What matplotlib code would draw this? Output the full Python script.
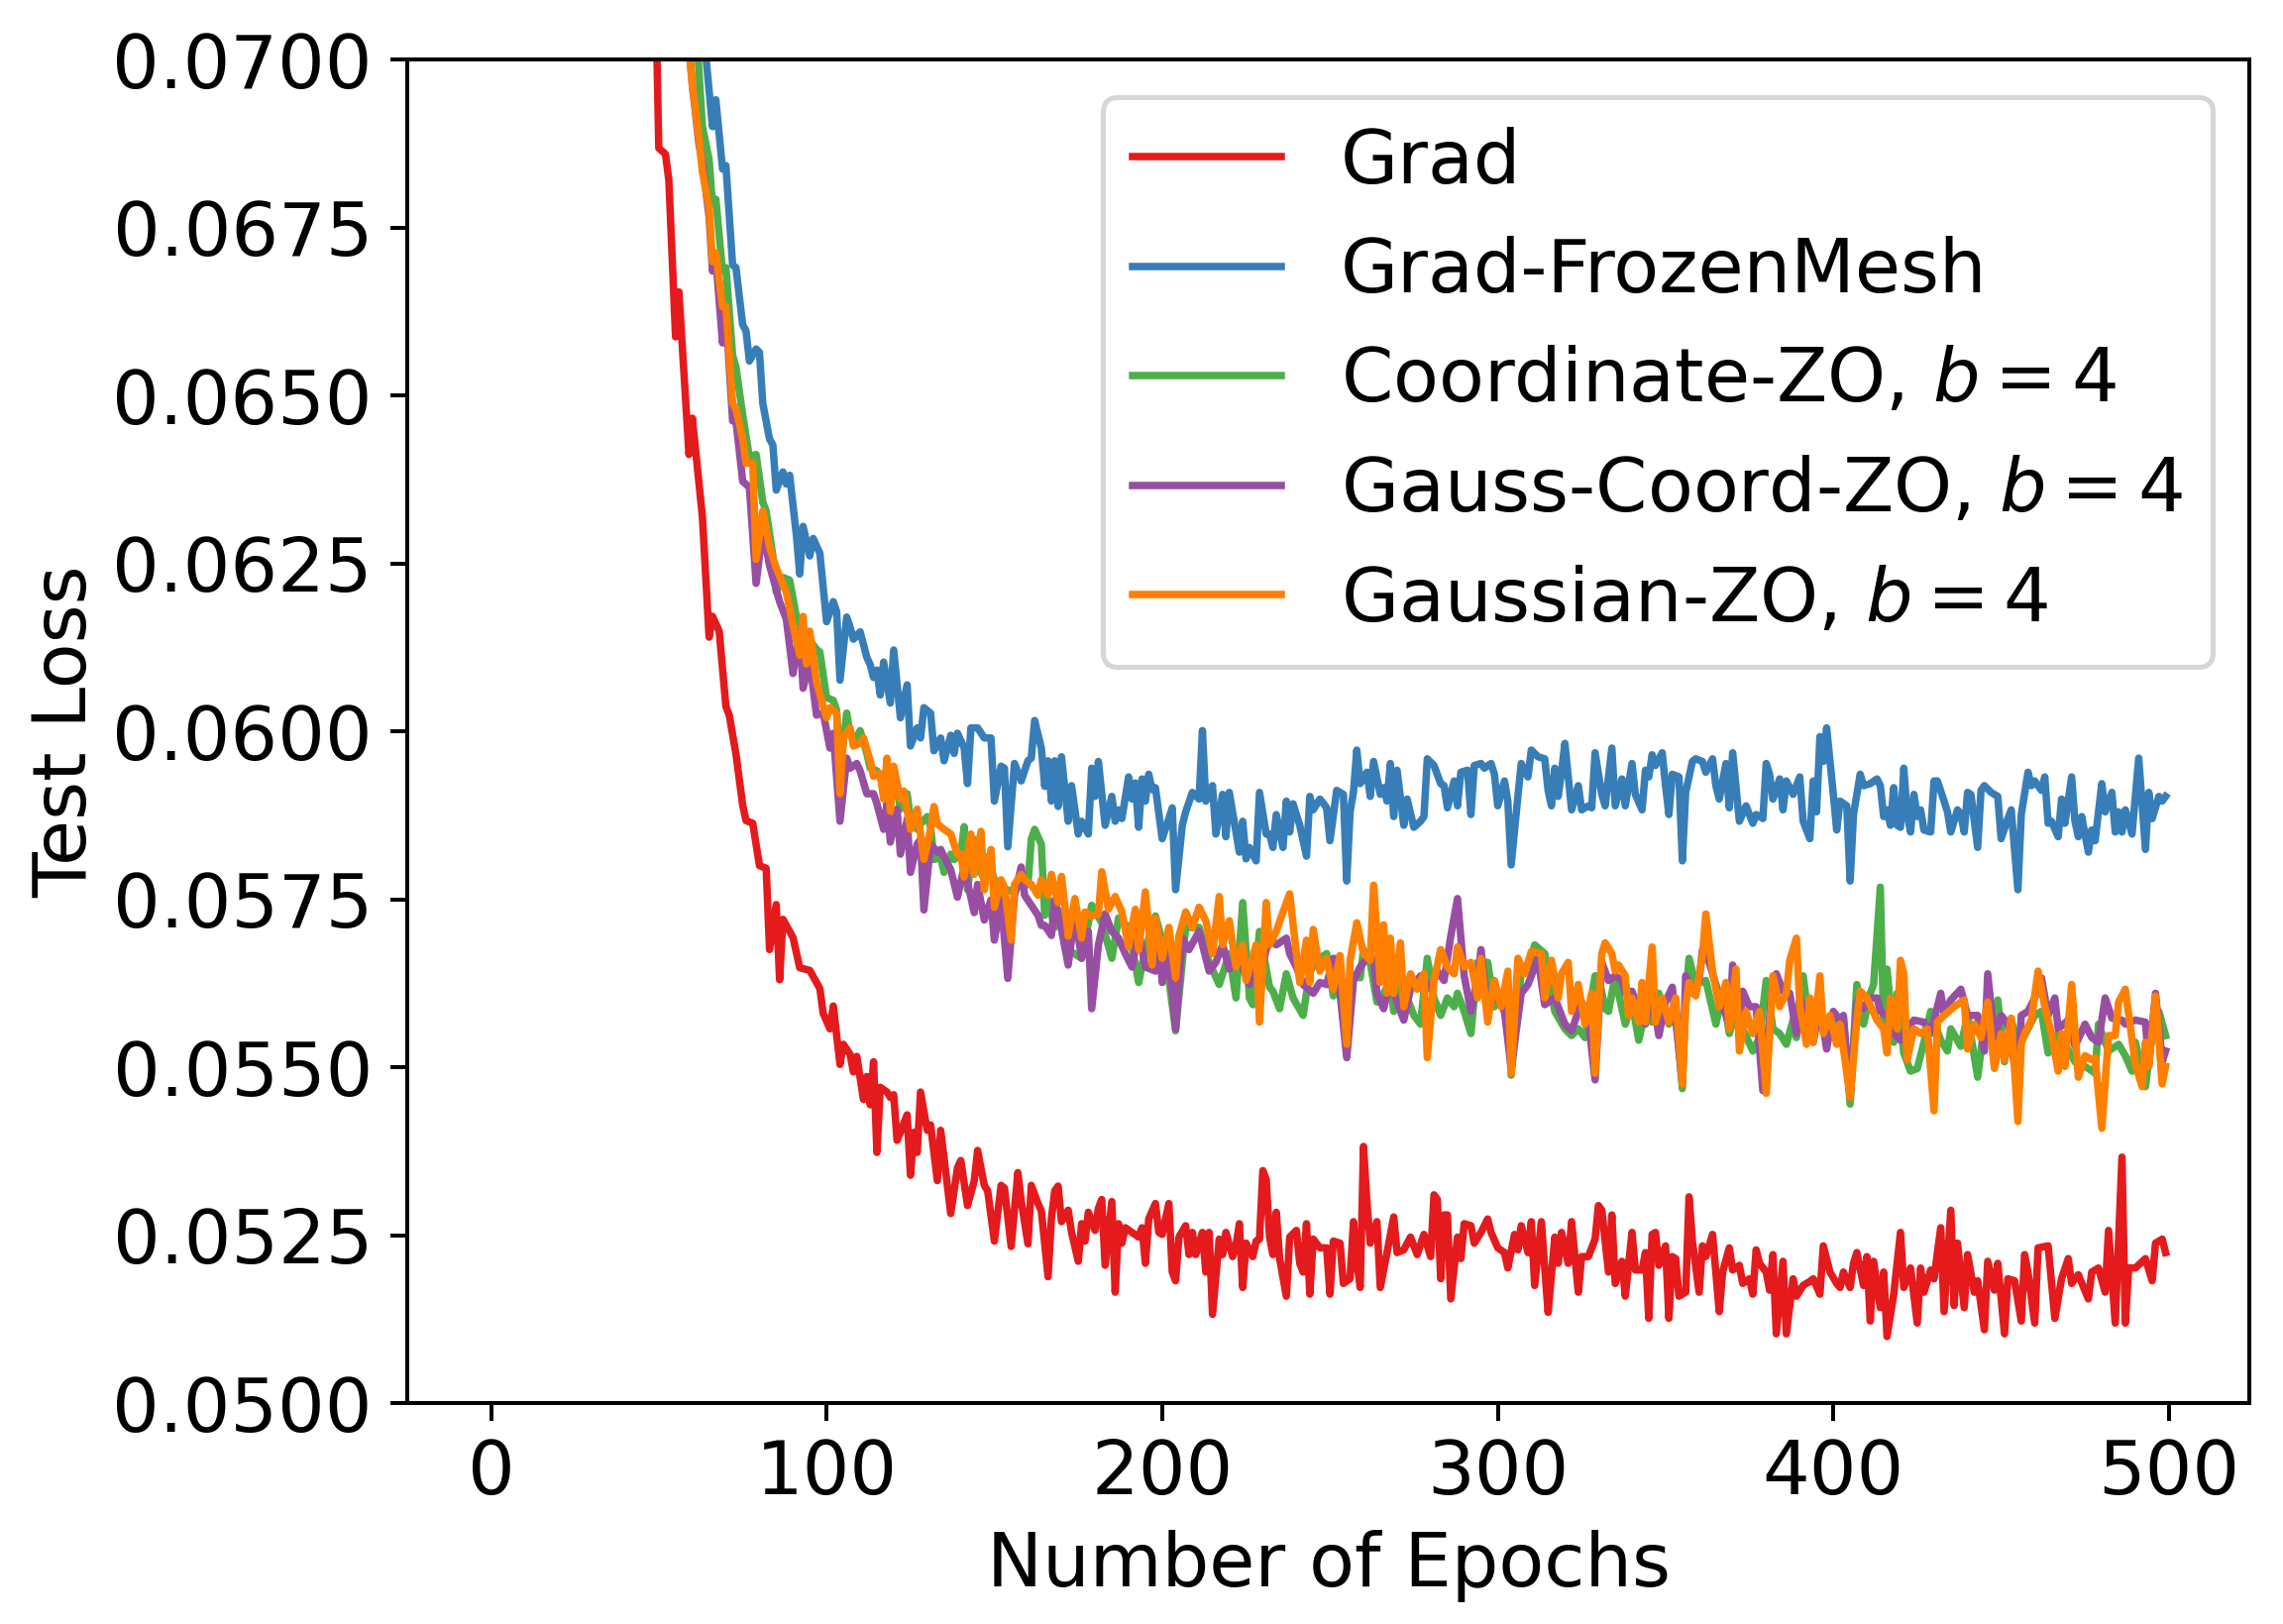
import numpy as np
import matplotlib
matplotlib.use("Agg")
import matplotlib.pyplot as plt
from matplotlib.ticker import FormatStrFormatter

# ---------------- data (epoch, test loss) ----------------
grad = [(0,0.30),(10,0.16),(20,0.11),(30,0.088),(40,0.077),(45,0.0732),(49,0.0712),
(50,0.06868),(52,0.06859),(53,0.06820),(55,0.06587),(56,0.06654),(59,0.06412),(60,0.06466),(63,0.06319),(65,0.06140),(66,0.06171),(68,0.06149),(70,0.06037),(71,0.06024),(73,0.05966),(75,0.05890),(76,0.05867),(78,0.05863),(80,0.05800),(82,0.05796),(83,0.05675),(85,0.05742),(86,0.05630),(87,0.05720),(90,0.05693),(92,0.05648),(95,0.05644),
(98,0.05617),(99,0.05580),(101,0.05557),(102,0.05591),(104,0.05504),(105,0.05534),(107,0.05519),(108,0.05493),(109,0.05516),(111,0.05452),(112,0.05486),(113,0.05444),(114,0.05508),(115,0.05373),(116,0.05470),(118,0.05463),(119,0.05455),(120,0.05459),(121,0.05391),(122,0.05403),(124,0.05429),(125,0.05339),(126,0.05403),(127,0.05373),(128,0.05463),(130,0.05406),(131,0.05414),(133,0.05331),(134,0.05406),(136,0.05324),(137,0.05282),(139,0.05350),(140,0.05361),(142,0.05294),(144,0.05331),(145,0.05376),(147,0.05324),(148,0.05316),(150,0.05241),(152,0.05324),(153,0.05320),(155,0.05233),(157,0.05343),(158,0.05301),(160,0.05237),(161,0.05324),(163,0.05297),(164,0.05286),(166,0.05188),(167,0.05275),(168,0.05316),
(169,0.05323),(170,0.05270),(172,0.05287),(173,0.05254),(175,0.05211),(176,0.05267),(177,0.05241),(178,0.05284),(180,0.05257),(181,0.05290),(182,0.05303),(183,0.05205),(185,0.05300),(186,0.05165),(187,0.05267),(188,0.05238),(189,0.05261),(191,0.05254),(193,0.05247),(194,0.05261),(195,0.05208),(196,0.05274),(198,0.05297),(199,0.05254),(200,0.05251),(202,0.05297),(203,0.05195),(204,0.05182),(205,0.05247),(207,0.05264),(208,0.05221),(209,0.05254),(210,0.05221),(212,0.05254),(213,0.05195),(214,0.05254),(215,0.05132),(217,0.05244),(218,0.05221),(219,0.05254),(221,0.05218),(222,0.05234),(223,0.05267),(224,0.05172),(225,0.05238),(227,0.05218),(228,0.05241),(229,0.05244),(230,0.05346),(231,0.05333),(232,0.05247),(233,0.05221),(234,0.05284),(235,0.05215),(237,0.05159),(238,0.05247),(240,0.05257),(241,0.05208),(242,0.05195),(243,0.05267),(244,0.05162),(245,0.05244),(247,0.05231),(249,0.05231),(250,0.05162),(251,0.05241),
(253,0.05238),(254,0.05178),(256,0.05185),(257,0.05270),(258,0.05211),(259,0.05172),(260,0.05382),(261,0.05300),(262,0.05238),(264,0.05270),(265,0.05172),(267,0.05224),(269,0.05277),(270,0.05224),(272,0.05228),(274,0.05247),(276,0.05221),(278,0.05251),(280,0.05218),(281,0.05310),(282,0.05303),(283,0.05185),(284,0.05280),(285,0.05280),(286,0.05155),(288,0.05247),(289,0.05215),(290,0.05267),(292,0.05264),(293,0.05238),(295,0.05254),(297,0.05274),(298,0.05254),(300,0.05231),(302,0.05224),(303,0.05201),(305,0.05251),(306,0.05228),(307,0.05264),(309,0.05224),(310,0.05270),(311,0.05175),(313,0.05270),(314,0.05201),(315,0.05135),(317,0.05247),(318,0.05208),(319,0.05254),(321,0.05208),(322,0.05270),(324,0.05165),(325,0.05218),(327,0.05218),(329,0.05244),(330,0.05294),(331,0.05287),
(333,0.05195),(334,0.05280),(335,0.05178),(337,0.05211),(338,0.05159),(340,0.05254),(341,0.05198),(343,0.05198),(344,0.05224),(345,0.05126),(346,0.05251),(347,0.05254),(348,0.05205),(350,0.05234),(351,0.05126),(352,0.05218),(353,0.05215),(354,0.05159),(356,0.05165),(357,0.05307),(358,0.05241),(360,0.05165),(361,0.05234),(362,0.05218),(364,0.05251),(366,0.05136),(367,0.05195),(369,0.05231),(370,0.05198),(372,0.05205),(373,0.05178),(375,0.05185),(376,0.05162),(377,0.05228),(378,0.05208),(380,0.05195),(381,0.05168),(382,0.05221),(383,0.05103),(385,0.05211),(386,0.05103),(388,0.05185),(389,0.05159),(391,0.05175),(393,0.05181),(394,0.05185),(396,0.05162),(397,0.05234),(399,0.05195),(401,0.05178),(402,0.05172),(403,0.05195),(405,0.05172),(406,0.05208),(407,0.05224),(409,0.05175),(410,0.05218),
(411,0.05122),(412,0.05211),(414,0.05142),(415,0.05195),(416,0.05099),(418,0.05162),(420,0.05254),(421,0.05172),(423,0.05201),(425,0.05119),(426,0.05201),(427,0.05165),(429,0.05198),(430,0.05185),(432,0.05261),(433,0.05136),(435,0.05287),(436,0.05145),(437,0.05238),(439,0.05142),(440,0.05221),(442,0.05165),(443,0.05182),(445,0.05109),(446,0.05211),(448,0.05168),(449,0.05208),(451,0.05103),(452,0.05185),(454,0.05182),(456,0.05122),(457,0.05221),(458,0.05195),(460,0.05119),(461,0.05231),(464,0.05234),(466,0.05126),(468,0.05185),(470,0.05215),(471,0.05178),(473,0.05191),(476,0.05155),(477,0.05195),(479,0.05201),(481,0.05165),(482,0.05257),(484,0.05119),(486,0.05366),(487,0.05119),(488,0.05201),(490,0.05201),(493,0.05215),(495,0.05182),(496,0.05238),(498,0.05244),(499,0.05224)]

grad_frozen = [(0,0.32),(10,0.16),(20,0.11),(30,0.09),(40,0.08),(50,0.075),(55,0.0731),(60,0.0716),(63,0.0706),
(66,0.06900),(67,0.06940),(69,0.06837),(70,0.06842),(72,0.06694),(73,0.06690),(75,0.06605),(76,0.06596),(77,0.06551),(79,0.06569),(80,0.06564),(81,0.06488),(83,0.06435),(84,0.06426),(85,0.06359),(87,0.06386),(88,0.06368),(89,0.06381),(91,0.06292),(92,0.06234),(93,0.06305),(95,0.06261),(96,0.06287),(98,0.06265),(100,0.06163),(102,0.06193),(103,0.06178),(104,0.06076),(106,0.06170),(107,0.06155),(108,0.06137),(110,0.06148),(112,0.06110),(113,0.06099),(114,0.06080),(115,0.06091),(116,0.06054),(117,0.06103),(119,0.06042),(120,0.06121),(122,0.06020),(124,0.06069),(125,0.05978),(127,0.06005),(128,0.05990),(129,0.06035),(131,0.06027),(132,0.05971),(134,0.05990),(135,0.05956),(137,0.05994),(138,0.05967),(139,0.05997),(141,0.05975),(142,0.05922),(143,0.06005),(145,0.06005),(147,0.05990),(149,0.05990),(150,0.05896),(152,0.05948),(153,0.05945),(154,0.05828),(156,0.05952),(158,0.05926),(160,0.05956),(161,0.05960),(162,0.06016),(164,0.05975),(165,0.05918),(166,0.05956),(167,0.05896),(168,0.05956),(169,0.05888),
(170,0.05962),(172,0.05866),(173,0.05919),(175,0.05847),(176,0.05866),(178,0.05847),(179,0.05945),(180,0.05903),(181,0.05955),(183,0.05860),(185,0.05903),(186,0.05866),(187,0.05883),(188,0.05870),(190,0.05932),(191,0.05899),(192,0.05923),(193,0.05857),(194,0.05929),(195,0.05896),(196,0.05936),(197,0.05913),(198,0.05916),(200,0.05840),(202,0.05870),(203,0.05886),(204,0.05764),(206,0.05860),(207,0.05880),(209,0.05909),(211,0.05899),(212,0.06001),(213,0.05896),(215,0.05919),(216,0.05847),(218,0.05906),(219,0.05843),(220,0.05909),(223,0.05820),(224,0.05866),(225,0.05810),(226,0.05827),(228,0.05807),(229,0.05909),(231,0.05847),(232,0.05847),(233,0.05827),(234,0.05876),(236,0.05827),(237,0.05896),(238,0.05850),(239,0.05892),(241,0.05860),(243,0.05814),(244,0.05903),(245,0.05883),(247,0.05899),(248,0.05893),(249,0.05886),(250,0.05837),
(252,0.05912),(254,0.05906),(255,0.05777),(256,0.05880),(257,0.05909),(258,0.05972),(259,0.05922),(261,0.05939),(262,0.05903),(263,0.05955),(265,0.05906),(266,0.05916),(267,0.05896),(268,0.05952),(269,0.05873),(270,0.05942),(272,0.05860),(273,0.05899),(275,0.05857),(277,0.05866),(278,0.05873),(279,0.05959),(281,0.05949),(283,0.05922),(284,0.05919),(285,0.05886),(287,0.05926),(288,0.05889),(289,0.05939),(291,0.05942),(292,0.05876),(293,0.05949),(295,0.05952),(296,0.05945),(298,0.05952),(299,0.05936),(300,0.05889),(302,0.05926),(303,0.05896),(304,0.05801),(306,0.05903),(307,0.05952),(309,0.05932),(310,0.05972),(312,0.05962),(314,0.05959),(315,0.05912),(316,0.05889),(317,0.05945),(318,0.05903),(319,0.05939),(320,0.05982),(322,0.05883),(324,0.05919),(325,0.05883),(327,0.05889),(328,0.05886),(329,0.05968),(331,0.05906),
(332,0.05889),(334,0.05975),(335,0.05889),(337,0.05929),(338,0.05889),(340,0.05952),(341,0.05906),(343,0.05883),(344,0.05942),(345,0.05932),(346,0.05965),(347,0.05949),(349,0.05968),(350,0.05919),(351,0.05876),(352,0.05936),(354,0.05932),(355,0.05807),(356,0.05909),(358,0.05955),(359,0.05959),(361,0.05955),(362,0.05939),(364,0.05959),(365,0.05919),(366,0.05899),(368,0.05952),(369,0.05886),(370,0.05968),(372,0.05866),(374,0.05889),(376,0.05863),(377,0.05876),(379,0.05870),(380,0.05952),(381,0.05936),(382,0.05899),(384,0.05929),(385,0.05883),(386,0.05926),(388,0.05906),(390,0.05932),(391,0.05866),(393,0.05840),(394,0.05926),(395,0.05880),(396,0.05992),(397,0.05955),(398,0.06005),(400,0.05906),(401,0.05853),(402,0.05896),(404,0.05889),(405,0.05777),(406,0.05876),(408,0.05936),(409,0.05919),
(411,0.05922),(413,0.05929),(414,0.05919),(415,0.05873),(416,0.05883),(417,0.05860),(418,0.05916),(419,0.05860),(420,0.05857),(421,0.05945),(422,0.05876),(423,0.05850),(424,0.05906),(425,0.05873),(426,0.05883),(427,0.05853),(429,0.05850),(430,0.05926),(431,0.05926),(433,0.05896),(434,0.05880),(435,0.05850),(437,0.05883),(438,0.05876),(439,0.05850),(440,0.05909),(441,0.05906),(443,0.05827),(444,0.05912),(445,0.05919),(447,0.05909),(449,0.05903),(450,0.05840),(452,0.05870),(453,0.05883),(455,0.05764),(456,0.05876),(458,0.05939),(459,0.05919),(460,0.05926),(462,0.05912),(463,0.05932),(464,0.05863),(465,0.05866),(467,0.05843),(468,0.05899),(469,0.05863),(471,0.05932),(472,0.05866),(473,0.05843),(474,0.05873),(476,0.05820),(477,0.05853),(478,0.05837),(480,0.05922),(481,0.05880),(483,0.05909),(484,0.05850),(485,0.05880),(486,0.05850),(487,0.05883),(489,0.05847),(491,0.05960),(493,0.05824),(494,0.05909),(495,0.05870),(497,0.05903),(498,0.05896),(499,0.05903)]

coord_zo = [(0,0.33),(10,0.17),(20,0.12),(30,0.095),(40,0.082),(50,0.075),(55,0.0728),(61,0.0706),
(63,0.06900),(65,0.06851),(66,0.06784),(67,0.06792),(69,0.06685),(70,0.06690),(72,0.06560),(73,0.06542),(75,0.06471),(77,0.06408),(79,0.06412),(81,0.06341),(82,0.06328),(84,0.06261),(85,0.06207),(87,0.06229),(89,0.06225),(91,0.06171),(93,0.06149),(95,0.06135),(97,0.06122),(98,0.06118),(100,0.06050),(102,0.06046),(103,0.06031),(104,0.05940),(106,0.06027),(107,0.05997),(109,0.05990),(110,0.06001),(112,0.05967),(113,0.05945),(115,0.05941),(116,0.05930),(118,0.05911),(119,0.05899),(121,0.05914),(122,0.05884),(124,0.05907),(125,0.05869),(127,0.05854),(128,0.05862),(130,0.05873),(131,0.05858),(132,0.05809),(134,0.05813),(135,0.05790),(137,0.05817),(138,0.05809),(140,0.05817),(141,0.05858),(142,0.05764),(144,0.05839),(145,0.05802),(147,0.05779),(148,0.05813),(150,0.05779),(151,0.05768),(153,0.05756),(154,0.05764),(156,0.05760),(157,0.05768),(159,0.05779),(160,0.05772),(161,0.05839),(162,0.05854),(164,0.05832),(165,0.05726),(166,0.05749),(168,0.05708),(169,0.05734),
(172,0.05675),(176,0.05662),(179,0.05741),(182,0.05715),(185,0.05662),(187,0.05722),(190,0.05708),(193,0.05626),(195,0.05675),(198,0.05725),(201,0.05669),(204,0.05554),(207,0.05708),(211,0.05708),(214,0.05656),(217,0.05623),(220,0.05669),(222,0.05603),(224,0.05745),(226,0.05603),(227,0.05593),(229,0.05702),(232,0.05619),(233,0.05613),(235,0.05587),(237,0.05639),(239,0.05603),(242,0.05577),(244,0.05643),(247,0.05662),(249,0.05669),(251,0.05606),
(252,0.05662),(255,0.05524),(257,0.05636),(259,0.05633),(260,0.05675),(262,0.05656),(264,0.05597),(266,0.05610),(268,0.05629),(269,0.05583),(271,0.05629),(273,0.05603),(275,0.05577),(277,0.05564),(279,0.05662),(281,0.05603),(283,0.05577),(285,0.05603),(287,0.05590),(288,0.05610),(290,0.05583),(292,0.05550),(294,0.05656),(297,0.05656),(299,0.05590),(301,0.05603),(303,0.05597),(304,0.05488),(307,0.05643),(309,0.05643),(311,0.05682),(314,0.05669),(317,0.05583),(320,0.05557),(322,0.05547),(324,0.05557),(326,0.05544),(329,0.05636),(330,0.05636),
(332,0.05587),(333,0.05583),(335,0.05636),(336,0.05610),(338,0.05564),(340,0.05597),(342,0.05540),(344,0.05583),(346,0.05567),(348,0.05610),(351,0.05564),(353,0.05583),(355,0.05468),(356,0.05603),(357,0.05662),(359,0.05623),(362,0.05629),(365,0.05564),(367,0.05613),(369,0.05550),(371,0.05583),(373,0.05557),(376,0.05524),(378,0.05544),(380,0.05629),(382,0.05557),(384,0.05550),(386,0.05534),(388,0.05570),(389,0.05544),(391,0.05636),(393,0.05557),(396,0.05597),(397,0.05564),(399,0.05557),(401,0.05570),(403,0.05570),(405,0.05445),(407,0.05623),(409,0.05564),(411,0.05610),
(412,0.05623),(414,0.05768),(415,0.05557),(416,0.05646),(418,0.05537),(419,0.05610),(421,0.05521),(423,0.05494),(425,0.05498),(427,0.05537),(429,0.05583),(432,0.05540),(434,0.05524),(435,0.05557),(438,0.05531),(440,0.05577),(443,0.05485),(445,0.05564),(447,0.05544),(449,0.05600),(451,0.05508),(453,0.05570),(455,0.05537),(457,0.05547),(460,0.05577),(462,0.05583),(464,0.05521),(467,0.05550),(469,0.05534),(472,0.05508),(476,0.05498),(478,0.05491),(479,0.05564),(482,0.05524),(485,0.05534),(487,0.05517),(489,0.05494),(490,0.05537),(493,0.05471),(495,0.05550),(497,0.05583),(499,0.05547)]

gauss_coord_zo = [(0,0.31),(10,0.165),(20,0.115),(30,0.092),(40,0.081),(50,0.0745),(55,0.0722),(58,0.0708),
(60,0.06962),(62,0.06873),(63,0.06846),(65,0.06766),(66,0.06685),(67,0.06703),(69,0.06578),(70,0.06623),(72,0.06462),(73,0.06462),(75,0.06372),(77,0.06363),(79,0.06220),(81,0.06301),(83,0.06247),(86,0.06193),(88,0.06167),(90,0.06086),(92,0.06149),(93,0.06064),(95,0.06104),(97,0.06024),(99,0.06027),(101,0.05975),(102,0.05997),(104,0.05866),(106,0.05960),(107,0.05945),(109,0.05952),(110,0.05941),(112,0.05907),(114,0.05907),(115,0.05892),(117,0.05854),(118,0.05892),(119,0.05835),(121,0.05884),(122,0.05817),(124,0.05869),(125,0.05790),(127,0.05832),(128,0.05839),(129,0.05734),(131,0.05832),(133,0.05820),(134,0.05824),(135,0.05813),(137,0.05794),(139,0.05753),(141,0.05798),(144,0.05730),(145,0.05772),(147,0.05719),(149,0.05749),(150,0.05689),(152,0.05749),(154,0.05632),(156,0.05756),(158,0.05798),(159,0.05756),(161,0.05741),(163,0.05726),(164,0.05711),(165,0.05711),(167,0.05696),(168,0.05749),(170,0.05705),
(172,0.05652),(174,0.05728),(176,0.05662),(178,0.05702),(179,0.05587),(181,0.05682),(183,0.05728),(185,0.05702),(187,0.05692),(189,0.05669),(191,0.05649),(193,0.05702),(195,0.05649),(198,0.05643),(199,0.05695),(200,0.05626),(202,0.05669),(204,0.05557),(206,0.05692),(208,0.05675),(211,0.05702),(214,0.05643),(216,0.05656),(218,0.05682),(220,0.05646),(223,0.05662),(226,0.05623),(228,0.05669),(230,0.05656),(232,0.05692),(234,0.05682),(237,0.05692),(238,0.05669),(240,0.05649),(242,0.05623),(245,0.05610),(247,0.05626),(249,0.05623),(251,0.05662),
(253,0.05610),(255,0.05514),(257,0.05629),(259,0.05649),(261,0.05662),(263,0.05662),(264,0.05610),(266,0.05587),(268,0.05629),(270,0.05597),(272,0.05570),(274,0.05616),(277,0.05636),(280,0.05616),(282,0.05643),(284,0.05629),(286,0.05695),(288,0.05751),(290,0.05636),(292,0.05583),(294,0.05629),(295,0.05675),(297,0.05583),(299,0.05610),(302,0.05583),(304,0.05498),(307,0.05610),(309,0.05623),(312,0.05662),(314,0.05593),(317,0.05603),(320,0.05564),(322,0.05554),(325,0.05597),(327,0.05570),(329,0.05481),(331,0.05656),
(333,0.05629),(335,0.05636),(337,0.05629),(338,0.05610),(340,0.05613),(342,0.05583),(344,0.05564),(346,0.05610),(348,0.05547),(350,0.05597),(352,0.05619),(355,0.05478),(356,0.05636),(358,0.05610),(360,0.05629),(361,0.05675),(363,0.05656),(365,0.05623),(367,0.05590),(369,0.05564),(370,0.05652),(372,0.05564),(373,0.05613),(375,0.05590),(377,0.05590),(379,0.05465),(382,0.05629),(383,0.05639),(385,0.05613),(387,0.05610),(389,0.05550),(390,0.05603),(392,0.05570),(394,0.05537),(396,0.05590),(398,0.05527),(400,0.05583),(402,0.05570),(403,0.05577),(405,0.05455),(407,0.05597),(409,0.05587),(411,0.05603),
(413,0.05603),(414,0.05583),(416,0.05577),(418,0.05550),(420,0.05540),(421,0.05550),(424,0.05570),(427,0.05567),(429,0.05550),(432,0.05610),(433,0.05580),(435,0.05600),(438,0.05616),(440,0.05577),(443,0.05577),(445,0.05524),(446,0.05639),(448,0.05544),(450,0.05577),(452,0.05564),(455,0.05471),(456,0.05577),(458,0.05583),(460,0.05603),(462,0.05633),(464,0.05577),(466,0.05603),(467,0.05557),(470,0.05570),(472,0.05531),(475,0.05564),(477,0.05544),(479,0.05537),(481,0.05603),(483,0.05573),(486,0.05570),(487,0.05564),(490,0.05570),(493,0.05567),(494,0.05504),(496,0.05610),(498,0.05508),(499,0.05524)]

gaussian_zo = [(0,0.30),(10,0.16),(20,0.115),(30,0.091),(40,0.080),(50,0.0744),(55,0.0721),(58,0.0707),
(60,0.06962),(62,0.06882),(63,0.06833),(65,0.06779),(66,0.06699),(67,0.06712),(69,0.06632),(70,0.06632),(72,0.06488),(73,0.06480),(75,0.06435),(76,0.06399),(78,0.06399),(79,0.06256),(81,0.06328),(83,0.06274),(85,0.06243),(88,0.06207),(90,0.06158),(92,0.06113),(93,0.06171),(94,0.06100),(95,0.06149),(97,0.06073),(100,0.06020),(101,0.06035),(103,0.06027),(104,0.05907),(105,0.05990),(107,0.06005),(108,0.05978),(110,0.05982),(111,0.05990),(113,0.05956),(114,0.05933),(116,0.05937),(117,0.05899),(118,0.05960),(119,0.05881),(120,0.05948),(122,0.05899),(123,0.05911),(125,0.05854),(126,0.05869),(127,0.05884),(129,0.05809),(131,0.05854),(132,0.05888),(133,0.05862),(135,0.05854),(137,0.05847),(139,0.05817),(140,0.05817),(141,0.05783),(143,0.05847),(144,0.05787),(146,0.05851),(147,0.05764),(149,0.05824),(150,0.05738),(152,0.05779),(153,0.05768),(155,0.05689),(156,0.05772),(158,0.05787),(159,0.05779),(161,0.05772),(163,0.05756),(164,0.05779),(166,0.05756),(167,0.05787),(169,0.05745),
(170,0.05784),(172,0.05695),(174,0.05751),(176,0.05692),(177,0.05731),(179,0.05725),(181,0.05728),(182,0.05791),(184,0.05735),(186,0.05754),(188,0.05731),(190,0.05679),(191,0.05708),(192,0.05735),(193,0.05675),(195,0.05761),(197,0.05652),(198,0.05722),(200,0.05662),(202,0.05708),(204,0.05633),(205,0.05695),(207,0.05731),(209,0.05708),(211,0.05738),(213,0.05718),(215,0.05669),(217,0.05754),(218,0.05682),(220,0.05718),(222,0.05649),(224,0.05682),(225,0.05629),(228,0.05682),(229,0.05567),(231,0.05745),(232,0.05682),(234,0.05702),(236,0.05731),(238,0.05758),(240,0.05669),(241,0.05626),(243,0.05689),(244,0.05626),(245,0.05705),(247,0.05643),(249,0.05662),(251,0.05616),
(253,0.05666),(255,0.05534),(256,0.05659),(258,0.05715),(260,0.05669),(262,0.05659),(263,0.05771),(265,0.05626),(266,0.05712),(267,0.05610),(268,0.05692),(269,0.05610),(271,0.05685),(272,0.05590),(274,0.05639),(276,0.05616),(278,0.05639),(279,0.05514),(281,0.05629),(283,0.05675),(285,0.05649),(287,0.05639),(288,0.05679),(290,0.05649),(292,0.05656),(294,0.05603),(295,0.05662),(297,0.05567),(299,0.05629),(301,0.05590),(303,0.05643),(304,0.05491),(306,0.05662),(308,0.05639),(310,0.05672),(313,0.05669),(314,0.05603),(316,0.05659),(318,0.05603),(319,0.05639),(321,0.05656),(322,0.05583),(324,0.05623),(326,0.05564),(328,0.05610),(329,0.05491),(331,0.05669),
(332,0.05685),(334,0.05669),(335,0.05643),(336,0.05652),(338,0.05636),(339,0.05577),(340,0.05603),(342,0.05567),(343,0.05626),(344,0.05567),(346,0.05679),(347,0.05567),(349,0.05603),(351,0.05567),(353,0.05603),(355,0.05475),(356,0.05590),(357,0.05626),(359,0.05606),(361,0.05666),(362,0.05728),(364,0.05643),(366,0.05590),(368,0.05626),(369,0.05557),(371,0.05646),(372,0.05524),(374,0.05583),(376,0.05550),(378,0.05583),(380,0.05461),(382,0.05636),(384,0.05590),(386,0.05610),(387,0.05659),(389,0.05692),(390,0.05590),(392,0.05534),(393,0.05603),(394,0.05537),(396,0.05636),(397,0.05550),(399,0.05577),(401,0.05534),(402,0.05564),(405,0.05455),(407,0.05570),(408,0.05613),(410,0.05603),
(413,0.05570),(415,0.05557),(416,0.05521),(417,0.05603),(419,0.05557),(420,0.05659),(421,0.05639),(422,0.05511),(424,0.05557),(426,0.05550),(428,0.05557),(430,0.05435),(431,0.05567),(433,0.05577),(436,0.05590),(439,0.05600),(440,0.05527),(442,0.05564),(444,0.05544),(446,0.05597),(448,0.05498),(450,0.05550),(451,0.05511),(453,0.05573),(455,0.05419),(456,0.05534),(457,0.05550),(459,0.05570),(461,0.05643),(463,0.05590),(465,0.05550),(467,0.05494),(468,0.05550),(469,0.05501),(471,0.05623),(473,0.05485),(475,0.05517),(477,0.05511),(478,0.05514),(480,0.05409),(482,0.05547),(484,0.05547),(485,0.05597),(487,0.05616),(490,0.05504),(492,0.05471),(493,0.05537),(494,0.05501),(496,0.05606),(498,0.05475),(499,0.05501)]

labels = ["Grad", "Grad-FrozenMesh", r"Coordinate-ZO, $b=4$",
          r"Gauss-Coord-ZO, $b=4$", r"Gaussian-ZO, $b=4$"]
colors = ["#e41a1c", "#377eb8", "#4daf4a", "#984ea3", "#ff7f00"]
x_ticks = [0, 100, 200, 300, 400, 500]
y_ticks = [0.0500, 0.0525, 0.0550, 0.0575, 0.0600, 0.0625, 0.0650, 0.0675, 0.0700]

# ---------------- figure ----------------
plt.rcParams["font.size"] = 15
fig = plt.figure(figsize=(2304 / 360, 1639 / 360), dpi=360)
ax = fig.add_axes([411 / 2304, 1 - 1416 / 1639, (2270 - 411) / 2304, (1416 - 60) / 1639])

for pts, c, lab in zip([grad, grad_frozen, coord_zo, gauss_coord_zo, gaussian_zo], colors, labels):
    ax.plot([p[0] for p in pts], [p[1] for p in pts], color=c, lw=1.5, label=lab)

ax.set_ylim(0.05, 0.07)
ax.set_xticks(x_ticks)
ax.set_yticks(y_ticks)
ax.yaxis.set_major_formatter(FormatStrFormatter("%.4f"))
ax.set_xlabel("Number of Epochs")
ax.set_ylabel("Test Loss", labelpad=2.0)
ax.legend(loc="upper right")

fig.savefig("out.png", dpi=360)
